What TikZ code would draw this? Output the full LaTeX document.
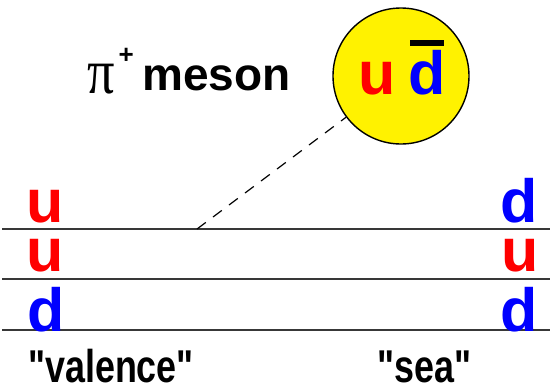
\documentclass[tikz,border=0pt]{standalone}
\usepackage{fontspec}
\setmainfont{Liberation Sans}
\newfontfamily\plainsans{Liberation Sans}[Ligatures=TeXOff]
\newfontfamily\serifgreek{Liberation Serif}
\usepackage{graphicx}
\begin{document}
\begin{tikzpicture}[x=1pt,y=-1pt,
  quark/.style={inner sep=0pt,font=\fontsize{61}{61}\selectfont\bfseries},
  label/.style={inner sep=0pt,font=\fontsize{46}{46}\selectfont\bfseries},
  qline/.style={draw=black!78,line width=1.6pt},
  red/.style={text=red},
  blue/.style={text=blue}]
\useasboundingbox (0,0) rectangle (550,386);
% pion circle
\node[circle,fill=yellow,draw=black,line width=1.4pt,minimum size=136pt,inner sep=0pt] (pion) at (401,76) {};
\node[quark,red,anchor=base west] (pu) at (358,94) {u};
\node[quark,blue,anchor=base west] (pd) at (408,94) {d};
\fill[blue] (410,40) rectangle (444,45.5);
% title
\node[inner sep=0pt,anchor=base west,font=\fontsize{64}{64}\selectfont\serifgreek] (pi) at (87,93) {\scalebox{0.85}[1]{π}};
\node[inner sep=0pt,anchor=base west,font=\fontsize{26}{26}\selectfont\bfseries] (plus) at (118.5,63.5) {+};
\node[label,anchor=base west] (meson) at (142,90) {meson};
% quark lines
\coordinate (l1a) at (2,229); \coordinate (l1b) at (550,229);
\coordinate (l2a) at (2,279); \coordinate (l2b) at (550,279);
\coordinate (l3a) at (2,330); \coordinate (l3b) at (550,330);
\draw[qline] (l1a) -- (l1b);
\draw[qline] (l2a) -- (l2b);
\draw[qline] (l3a) -- (l3b);
% quarks left
\node[quark,red,anchor=base west] (q1) at (26,222) {u};
\node[quark,red,anchor=base west] (q2) at (26,271) {u};
\node[quark,blue,anchor=base west] (q3) at (27,331) {d};
% quarks right
\node[quark,blue,anchor=base east] (s1) at (538,222) {d};
\node[quark,red,anchor=base east] (s2) at (539,271) {u};
\node[quark,blue,anchor=base east] (s3) at (538,331) {d};
% dashed link
\coordinate (v) at (197,229);
\draw[dashed,dash pattern=on 11pt off 9pt,line width=1.2pt] (v) -- (pion);
% labels
\node[inner sep=0pt,anchor=base west,font=\fontsize{46}{46}\selectfont\plainsans\bfseries] (val) at (28,382) {\scalebox{0.78}[1]{"valence"}};
\node[inner sep=0pt,anchor=base west,font=\fontsize{46}{46}\selectfont\plainsans\bfseries] (sea) at (377,382) {\scalebox{0.78}[1]{"sea"}};
\end{tikzpicture}
\end{document}
